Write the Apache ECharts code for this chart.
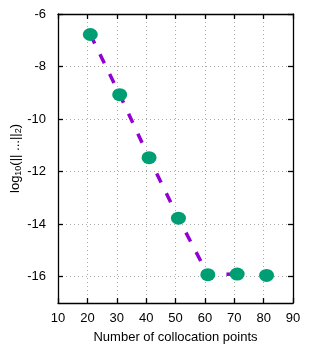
<!DOCTYPE html>
<html>
<head>
<meta charset="utf-8">
<script src="https://cdn.jsdelivr.net/npm/echarts@6/dist/echarts.min.js"></script>
<style>html,body{margin:0;padding:0;background:#fff;}#c{width:318px;height:346px;}</style>
</head>
<body>
<div id="c"></div>
<script>
// data
var pointX = [21, 31, 41, 51, 61, 71, 81];
var pointY = [-6.78, -9.07, -11.47, -13.77, -15.92, -15.9, -15.95];
var lineX = [21, 31, 41, 51, 61, 71, 74.5];
var lineY = [-6.78, -9.07, -11.47, -13.77, -15.92, -15.9, -15.9];
var yTicks = [-16, -14, -12, -10, -8, -6];
var xTicks = [10, 20, 30, 40, 50, 60, 70, 80, 90];

function pairs(xs, ys) { return xs.map(function (x, i) { return [x, ys[i]]; }); }

var font = 'Liberation Sans, Arial, sans-serif';
var gridLine = { show: true, lineStyle: { color: '#a8a8a8', type: [1, 3], width: 1 } };
var axLine = { show: true, onZero: false, lineStyle: { color: '#000', width: 1.3 } };
var tick = { show: true, inside: true, length: 5, lineStyle: { color: '#000', width: 1.3 } };

var chart = echarts.init(document.getElementById('c'), null, { renderer: 'canvas' });
chart.setOption({
  animation: false,
  backgroundColor: '#fff',
  grid: { left: 58, right: 25, top: 14, bottom: 43, containLabel: false, outerBoundsMode: 'none' },
  xAxis: [{
    type: 'value', min: 10, max: 90, interval: 10, position: 'bottom',
    name: 'Number of collocation points', nameLocation: 'middle', nameGap: 28,
    nameMoveOverlap: false,
    nameTextStyle: { fontFamily: font, fontSize: 13, color: '#000' },
    axisLine: axLine, axisTick: tick, splitLine: gridLine,
    axisLabel: { fontFamily: font, fontSize: 13, color: '#000', margin: 9 }
  }, {
    type: 'value', min: 10, max: 90, interval: 10, position: 'top',
    axisLine: axLine, axisTick: tick, splitLine: { show: false }, axisLabel: { show: false }
  }],
  yAxis: [{
    type: 'value', min: -17, max: -6, position: 'left',
    name: '{n|log}{s|10}{n|(|| ...||}{s|2}{n|)}', nameLocation: 'middle', nameGap: 35,
    nameMoveOverlap: false,
    nameTextStyle: {
      fontFamily: font, fontSize: 13, color: '#000',
      rich: {
        n: { fontFamily: font, fontSize: 13, color: '#000' },
        s: { fontFamily: font, fontSize: 9, color: '#000', verticalAlign: 'bottom', padding: [6, 0, 0, 0] }
      }
    },
    axisLine: axLine,
    axisTick: Object.assign({}, tick, { customValues: yTicks }),
    splitLine: gridLine,
    axisLabel: { fontFamily: font, fontSize: 13, color: '#000', margin: 12, customValues: yTicks }
  }, {
    type: 'value', min: -17, max: -6, position: 'right',
    axisLine: axLine,
    axisTick: Object.assign({}, tick, { customValues: yTicks }),
    splitLine: { show: false },
    axisLabel: { show: false, customValues: yTicks }
  }],
  series: [{
    type: 'line', data: pairs(lineX, lineY), showSymbol: false, symbol: 'none',
    lineStyle: { color: '#9400D3', width: 3.5, type: [10, 12], cap: 'butt' }, z: 2
  }, {
    type: 'scatter', data: pairs(pointX, pointY),
    symbol: 'path://M50,0A50,50,0,1,1,50,100A50,50,0,1,1,50,0Z', symbolSize: [15, 13],
    itemStyle: { color: '#009E73', opacity: 1 }, z: 3
  }]
});
</script>
</body>
</html>
